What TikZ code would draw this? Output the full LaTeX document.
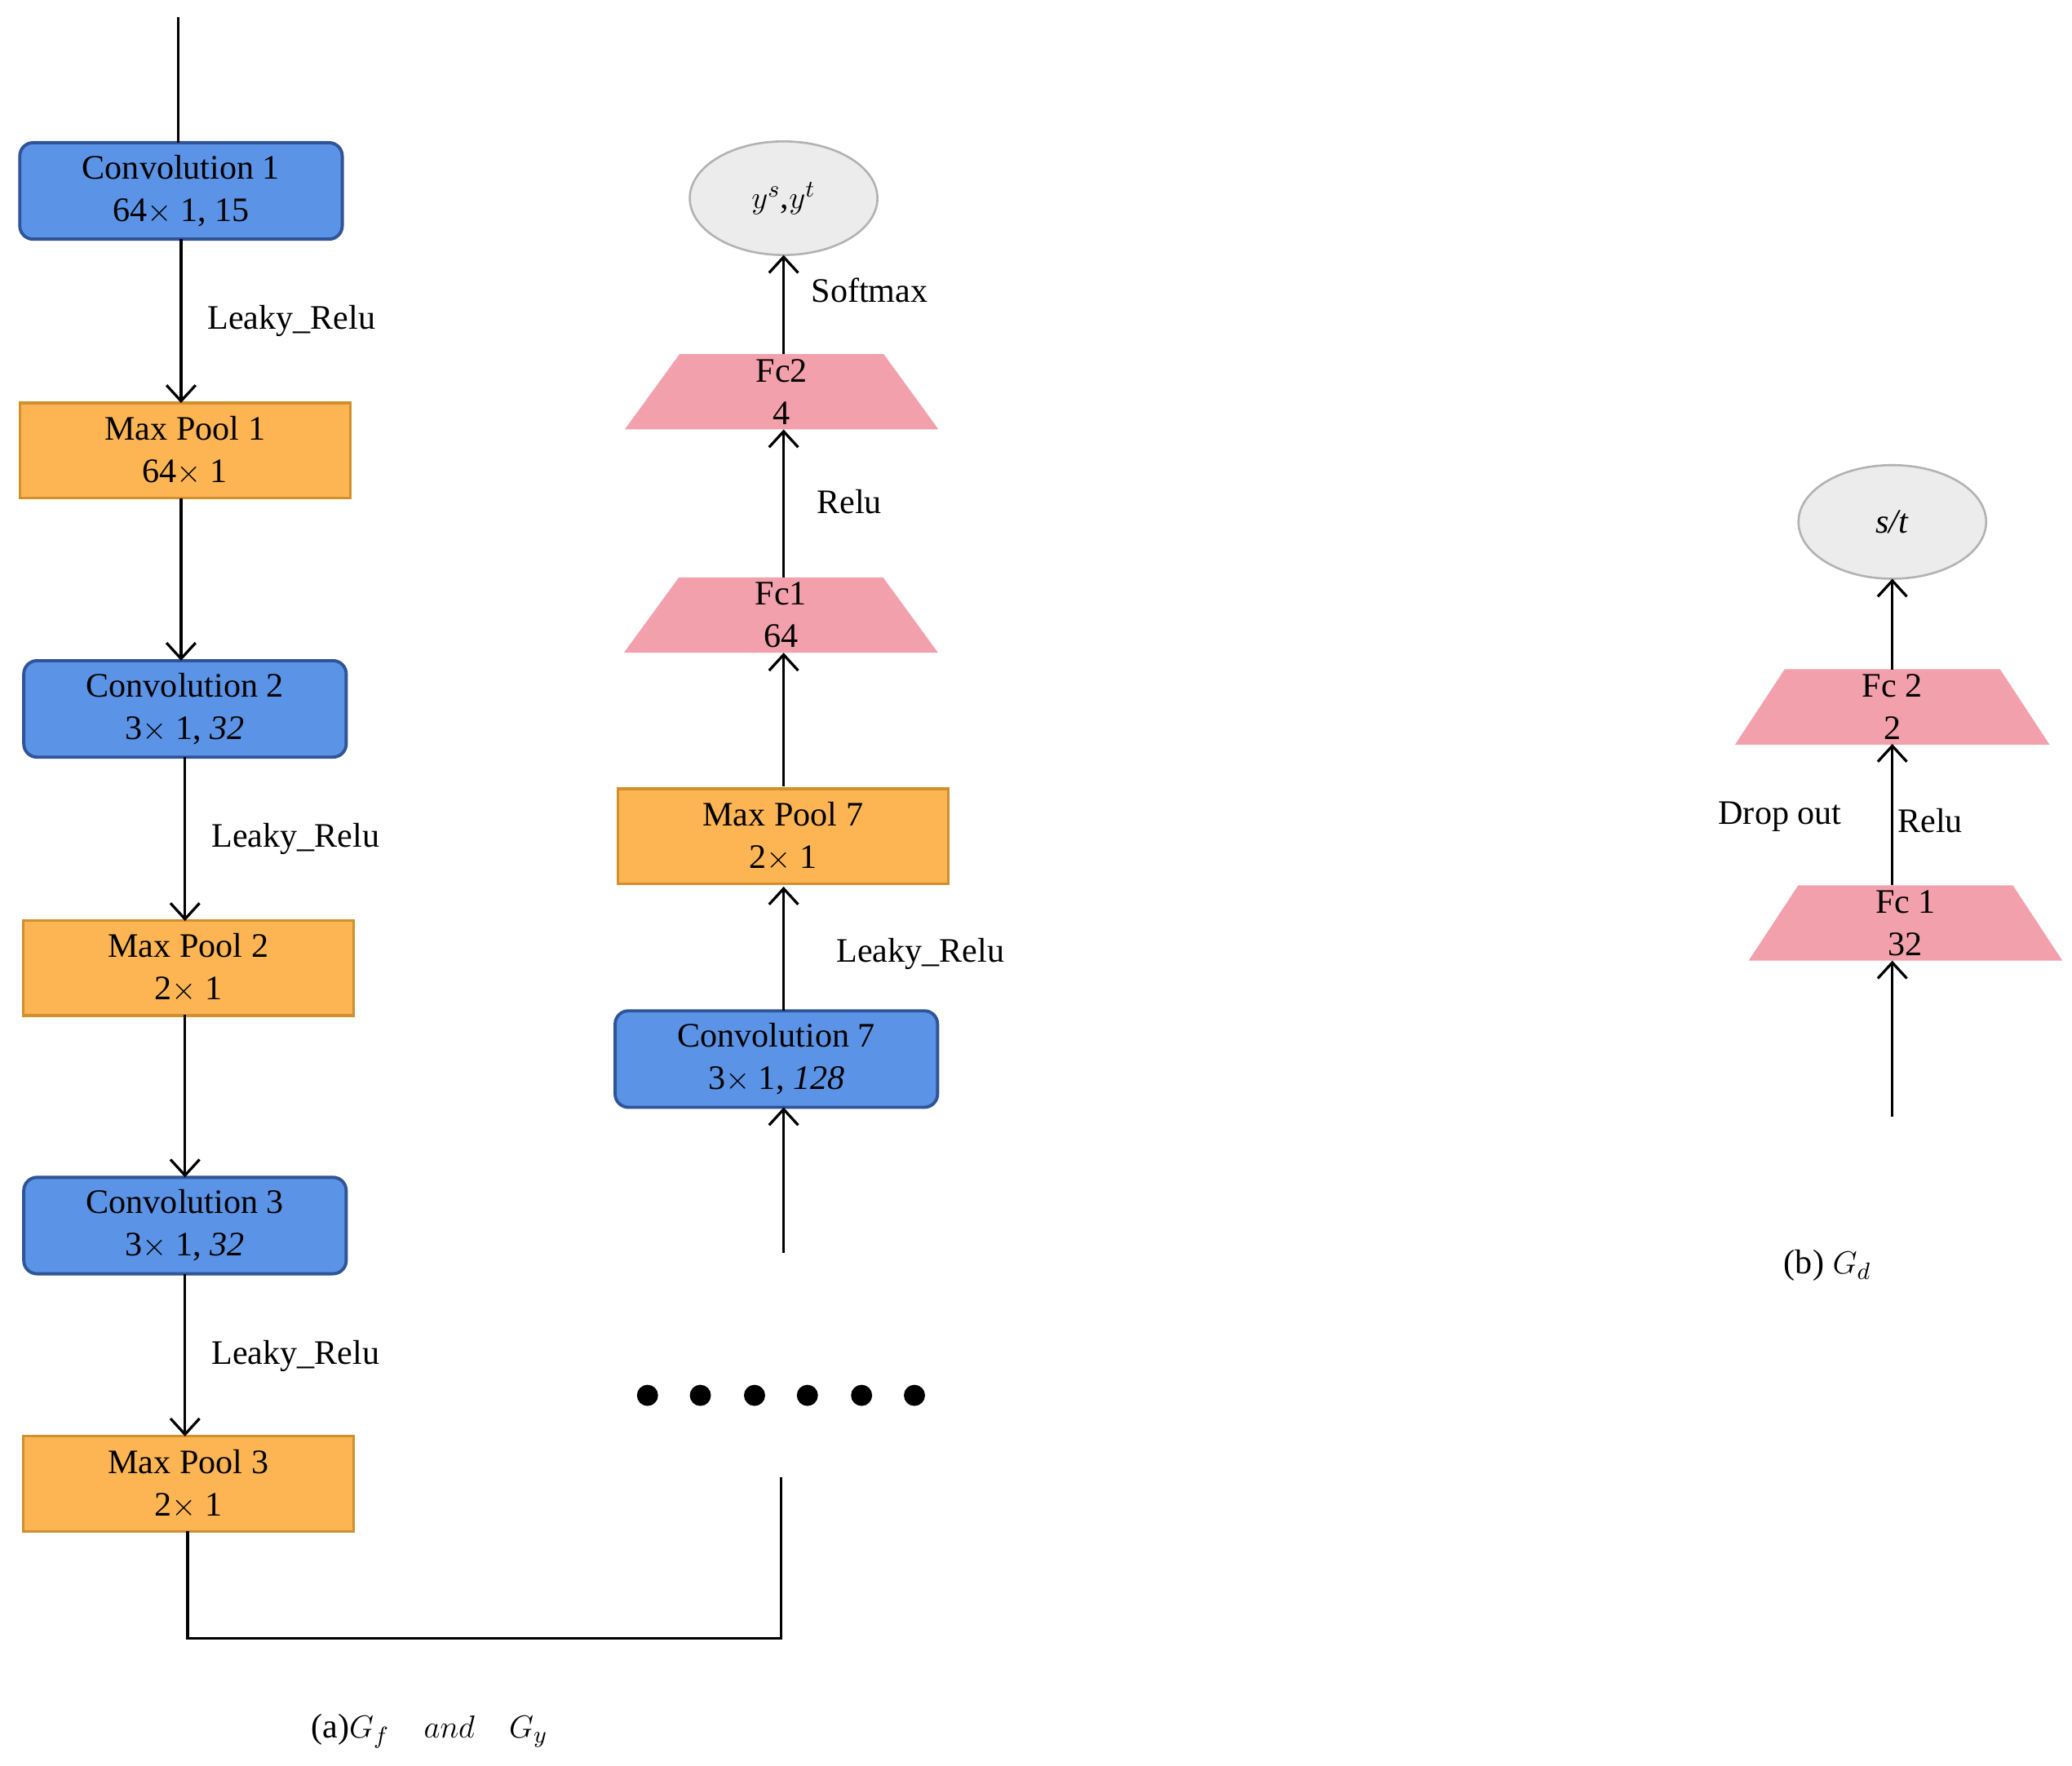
\documentclass[tikz,border=0pt]{standalone}
\usepackage{fontspec}
\setmainfont{Liberation Serif}
\usetikzlibrary{shapes.geometric,arrows.meta}
\definecolor{cb}{HTML}{5B93E6}
\definecolor{cbd}{HTML}{2F5597}
\definecolor{co}{HTML}{FDB553}
\definecolor{cod}{HTML}{D0902E}
\definecolor{cp}{HTML}{F2A0AB}
\begin{document}
\begin{tikzpicture}[x=0.5pt,y=-0.5pt,
 every node/.style={font=\fontsize{13}{16}\selectfont,align=center},
 conv/.style={draw=cbd,line width=1.2pt,fill=cb,rounded corners=5pt,minimum width=122pt,minimum height=36.5pt,inner sep=0pt},
 pool/.style={draw=cod,line width=1pt,fill=co,minimum width=125pt,minimum height=36pt,inner sep=0pt},
 fc/.style={trapezium,fill=cp,trapezium left angle=78,trapezium right angle=78,trapezium stretches=true,minimum width=119pt,minimum height=28.5pt,inner sep=0pt},
 outn/.style={ellipse,draw=gray!60,fill=gray!15,line width=0.8pt,minimum width=71pt,minimum height=43pt,inner sep=0pt},
 arr/.style={-{Straight Barb[length=6pt,width=11pt]},line width=1pt},
 lab/.style={anchor=west}]
\useasboundingbox (0,0) rectangle (1568,1336);
\node[conv] (c1) at (137,144.5) {Convolution 1\\64$\times$ 1, 15};
\node[pool] (p1) at (140,341) {Max Pool 1\\64$\times$ 1};
\node[conv] (c2) at (140,536.5) {Convolution 2\\3$\times$ 1, \textit{32}};
\node[pool] (p2) at (142.5,732.5) {Max Pool 2\\2$\times$ 1};
\node[conv] (c3) at (140,927.5) {Convolution 3\\3$\times$ 1, \textit{32}};
\node[pool] (p3) at (142.5,1123) {Max Pool 3\\2$\times$ 1};
\coordinate (top) at (135,13);
\draw[line width=1pt] (top) -- (135,108);
\draw[arr] (137,181) -- (137,305);
\node[lab] at (150,243) {Leaky\_Relu};
\draw[arr] (137,377) -- (137,500);
\draw[arr] (140,573) -- (140,697);
\node[lab] at (153,635) {Leaky\_Relu};
\draw[arr] (140,768) -- (140,891);
\draw[arr] (140,964) -- (140,1087);
\node[lab] at (153,1026) {Leaky\_Relu};
\coordinate (e1) at (591,1118);
\draw[line width=1pt] (142,1159) -- (142,1240) -- (591,1240) -- (e1);
\foreach \x in {490,530,571,611,652,692} \fill (\x,1056) circle (8);
\node[conv] (c7) at (587.5,801.5) {Convolution 7\\3$\times$ 1, \textit{128}};
\node[pool] (p7) at (592.5,633) {Max Pool 7\\2$\times$ 1};
\node[fc] (f1) at (591,465.5) {Fc1\\64};
\node[fc] (f2) at (591.5,296.5) {Fc2\\4};
\node[outn] (y) at (593,150) {$y^s$,$y^t$};
\coordinate (s7) at (593,948);
\draw[arr] (s7) -- (593,838);
\draw[arr] (593,765) -- (593,671);
\node[lab] at (626,722) {Leaky\_Relu};
\draw[arr] (593,595) -- (593,494);
\draw[arr] (593,437) -- (593,325);
\node[lab] at (611,380) {Relu};
\draw[arr] (593,268) -- (593,193);
\node[lab] at (607,220) {Softmax};
\node[outn] (st) at (1432,395) {\textit{s/t}};
\node[fc] (g2) at (1432,535) {Fc 2\\2};
\node[fc] (g1) at (1442,698.5) {Fc 1\\32};
\coordinate (s2) at (1432,845);
\draw[arr] (s2) -- (1432,727);
\draw[arr] (1432,670) -- (1432,563);
\node at (1347,618) {Drop out};
\node[lab] at (1429,621) {Relu};
\draw[arr] (1432,507) -- (1432,438);
\node at (325,1310) {(a)$G_f$\quad $and$\quad $G_y$};
\node at (1383,958) {(b) $G_d$};
\end{tikzpicture}
\end{document}
